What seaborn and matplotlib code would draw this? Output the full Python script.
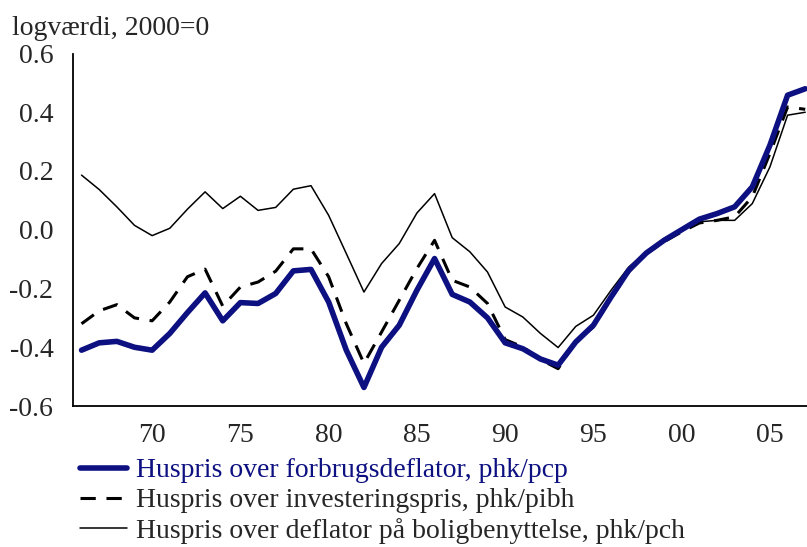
import numpy as np
import pandas as pd
import matplotlib
matplotlib.use("Agg")
import matplotlib.pyplot as plt
import seaborn as sns

years = list(range(1966, 2008))
phk_pcp = [-0.41, -0.385, -0.38, -0.40, -0.41, -0.353, -0.282, -0.215, -0.31, -0.248,
           -0.251, -0.217, -0.14, -0.135, -0.246, -0.41, -0.537, -0.40, -0.325, -0.206,
           -0.098, -0.22, -0.246, -0.30, -0.385, -0.405, -0.44, -0.461, -0.382, -0.325,
           -0.229, -0.138, -0.079, -0.036, 0.0, 0.036, 0.055, 0.078, 0.146, 0.288,
           0.458, 0.48]
phk_pibh = [-0.32, -0.276, -0.255, -0.30, -0.31, -0.246, -0.16, -0.134, -0.26, -0.195,
            -0.178, -0.141, -0.065, -0.065, -0.16, -0.32, -0.455, -0.348, -0.24, -0.132,
            -0.036, -0.172, -0.195, -0.251, -0.374, -0.399, -0.442, -0.473, -0.38, -0.331,
            -0.234, -0.144, -0.081, -0.041, -0.007, 0.023, 0.032, 0.044, 0.112, 0.26,
            0.418, 0.41]
phk_pch = [0.186, 0.137, 0.078, 0.015, -0.02, 0.005, 0.07, 0.129, 0.072, 0.114,
           0.066, 0.076, 0.138, 0.15, 0.049, -0.081, -0.212, -0.115, -0.047, 0.057,
           0.123, -0.027, -0.075, -0.144, -0.263, -0.297, -0.353, -0.401, -0.329, -0.291,
           -0.206, -0.127, -0.075, -0.03, 0.0, 0.027, 0.032, 0.032, 0.089, 0.214,
           0.39, 0.40]
labels = ["Huspris over forbrugsdeflator, phk/pcp",
          "Huspris over investeringspris, phk/pibh",
          "Huspris over deflator på boligbenyttelse, phk/pch"]
yticks = [-0.6, -0.4, -0.2, 0.0, 0.2, 0.4, 0.6]
ytick_labels = ["-0.6", "-0.4", "-0.2", "0.0", "0.2", "0.4", "0.6"]
xtick_years = [1970, 1975, 1980, 1985, 1990, 1995, 2000, 2005]
xtick_labels = ["70", "75", "80", "85", "90", "95", "00", "05"]

sns.set_style("white")
plt.rcParams['font.family'] = ['Liberation Serif', 'DejaVu Serif']
plt.rcParams['axes.unicode_minus'] = False

FS = 20
NAVY = "#0c1080"

fig = plt.figure(figsize=(8.07, 5.47), dpi=100)
ax = fig.add_axes([72.7 / 807, 1 - 406 / 547, 1 - 72.7 / 807, (406 - 53.5) / 547])

df = pd.DataFrame({"year": years, "pcp": phk_pcp, "pibh": phk_pibh, "pch": phk_pch})

sns.lineplot(data=df, x="year", y="pch", ax=ax, color="black", lw=1.1, label=labels[2])
sns.lineplot(data=df, x="year", y="pibh", ax=ax, color="black", lw=2.2,
             dashes=(5, 3.5), label=labels[1])
sns.lineplot(data=df, x="year", y="pcp", ax=ax, color=NAVY, lw=4.0, label=labels[0])

ax.set_xlim(1965.5, 2007.1)
ax.set_ylim(-0.6, 0.6)
ax.set_xlabel("")
ax.set_ylabel("")
ax.legend_.remove()

for s in ["top", "right"]:
    ax.spines[s].set_visible(False)
for s in ["left", "bottom"]:
    ax.spines[s].set_color("black")
    ax.spines[s].set_linewidth(1.3)

ax.set_yticks(yticks)
ax.set_yticklabels(ytick_labels, fontsize=FS)
ax.tick_params(axis="y", direction="out", length=7, width=1.2, color="black", pad=7)

ax.set_xticks(xtick_years)
ax.set_xticklabels(xtick_labels, fontsize=FS)
ax.set_xticks([y + 0.5 for y in range(1965, 2007)], minor=True)
ax.tick_params(axis="x", which="major", length=0, pad=12)
ax.tick_params(axis="x", which="minor", direction="out", length=5, width=1.2, color="black")

fig.text(12 / 807, 1 - 35 / 547, "logværdi, 2000=0", fontsize=FS, ha="left", va="baseline")

handles, _ = ax.get_legend_handles_labels()
h = [handles[2], handles[1], handles[0]]
leg = fig.legend(h, labels, loc="upper left", bbox_to_anchor=(80 / 807, 1 - 458 / 547),
                 frameon=False, fontsize=FS, handlelength=1.7, handletextpad=0.3,
                 labelspacing=0.16, borderaxespad=0, borderpad=0)
leg.get_texts()[0].set_color(NAVY)

fig.savefig("out.png", dpi=100)
